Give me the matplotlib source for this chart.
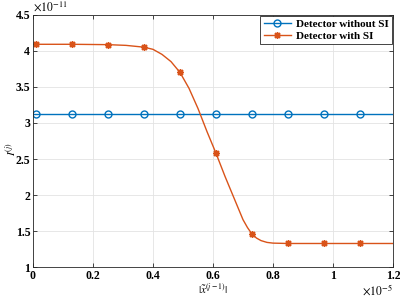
import numpy as np
import matplotlib
matplotlib.use("Agg")
import matplotlib.pyplot as plt

# valores (x en 1e-5, y en 1e-11)
x_sin = [0, 0.01, 0.13, 0.25, 0.37, 0.49, 0.61, 0.73, 0.85, 0.97, 1.09, 1.2]
y_sin = [3.13] * len(x_sin)

x_con = [0, 0.01, 0.13, 0.25, 0.31, 0.37, 0.40, 0.43, 0.46, 0.49, 0.52, 0.55,
         0.58, 0.61, 0.64, 0.67, 0.70, 0.715, 0.73, 0.745, 0.76, 0.78, 0.80,
         0.85, 0.97, 1.09, 1.2]
y_con = [4.09, 4.09, 4.09, 4.085, 4.075, 4.05, 4.02, 3.95, 3.85, 3.70, 3.48, 3.20,
         2.88, 2.58, 2.26, 1.96, 1.66, 1.55, 1.46, 1.405, 1.37, 1.345, 1.335,
         1.33, 1.33, 1.33, 1.33]
marcas_con = [1, 2, 3, 5, 9, 13, 18, 23, 24, 25]

xticks = [0, 0.2, 0.4, 0.6, 0.8, 1, 1.2]
xticklabels = ["0", "0.2", "0.4", "0.6", "0.8", "1", "1.2"]
yticks = [1, 1.5, 2, 2.5, 3, 3.5, 4, 4.5]
yticklabels = ["1", "1.5", "2", "2.5", "3", "3.5", "4", "4.5"]

plt.rcParams['font.family'] = ['Liberation Serif', 'DejaVu Serif']
plt.rcParams['mathtext.fontset'] = 'stix'

fig = plt.figure(figsize=(4, 3), dpi=100)
ax = fig.add_axes([0.0825, 0.109, 0.90, 0.842])

azul = '#0072BD'
naranja = '#D95319'
ax.plot(x_sin, y_sin, color=azul, lw=1.0, marker='o', markersize=5,
        markerfacecolor='none', markeredgewidth=1.0, markevery=list(range(1, 11)),
        label='Detector without SI')
ax.plot(x_con, y_con, color=naranja, lw=1.0, marker=(8, 2, 0), markersize=5,
        markeredgewidth=1.0, markevery=marcas_con, label='Detector with SI')

ax.set_xlim(0, 1.2)
ax.set_ylim(1, 4.5)
ax.set_xticks(xticks)
ax.set_xticklabels(xticklabels, fontweight='bold', fontsize=8.5)
ax.set_yticks(yticks)
ax.set_yticklabels(yticklabels, fontweight='bold', fontsize=8.5)
ax.tick_params(direction='in', length=3, width=0.6, color='#262626',
               top=True, right=True, pad=2)
ax.grid(True, color='#e3e3e3', lw=0.6)
ax.set_axisbelow(True)
for s in ax.spines.values():
    s.set_color('#262626')
    s.set_linewidth(0.6)

ax.set_xlabel(r'$|\tilde{x}^{(j-1)}|$', fontsize=8)
ax.xaxis.set_label_coords(0.5, -0.055)
ax.set_ylabel(r'$I^{(j)}$', fontsize=8)
ax.yaxis.set_label_coords(-0.042, 0.47)
ax.text(0.0, 1.005, r'$\times10^{-11}$', transform=ax.transAxes,
        fontsize=8.5, va='bottom', ha='left')
ax.text(1.0, -0.09, r'$\times10^{-5}$', transform=ax.transAxes,
        fontsize=8.5, va='center', ha='right')

leg = ax.legend(loc='upper right', prop={'weight': 'bold', 'size': 8},
                fancybox=False, edgecolor='#262626', framealpha=1,
                borderaxespad=0.1, handlelength=2.5, borderpad=0.3,
                labelspacing=0.2, handletextpad=0.4)
leg.get_frame().set_linewidth(0.6)

fig.savefig("out.png", dpi=100)
